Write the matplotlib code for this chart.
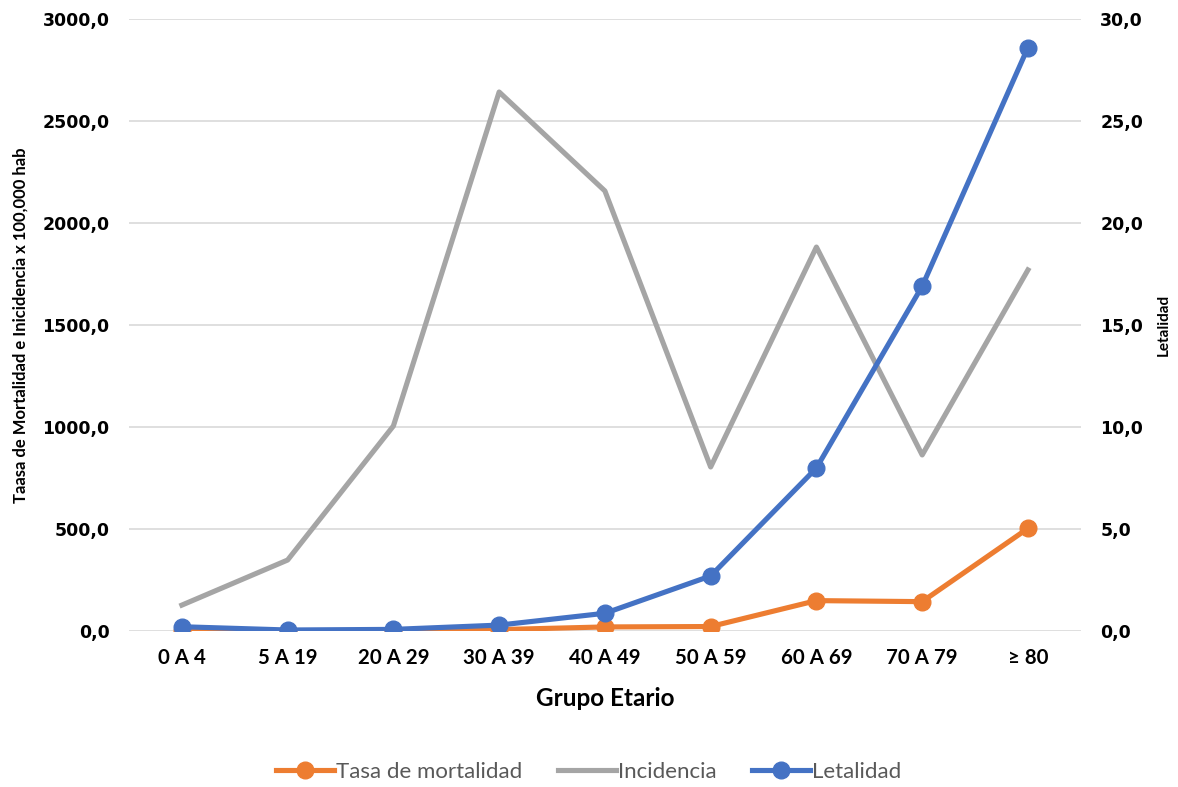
import matplotlib.pyplot as plt
from matplotlib.ticker import FuncFormatter, MultipleLocator

grupos = ['0 A 4', '5 A 19', '20 A 29', '30 A 39', '40 A 49', '50 A 59', '60 A 69', '70 A 79', '≥ 80']
tasa_mortalidad = [2, 1, 2, 7, 20, 22, 149, 144, 503]
incidencia = [127, 348, 1005, 2642, 2157, 804, 1882, 863, 1770]
letalidad = [0.21, 0.05, 0.08, 0.29, 0.87, 2.70, 7.99, 16.9, 28.6]

naranja = '#ED7D31'
gris = '#A5A5A5'
azul = '#4472C4'

fig = plt.figure(figsize=(11.78, 7.87), dpi=100)
ax = fig.add_axes([0.1095, 0.1982, 0.808, 0.7777])
ax2 = ax.twinx()

x = range(len(grupos))
l1, = ax.plot(x, tasa_mortalidad, color=naranja, lw=3.7, marker='o', ms=12,
              label='Tasa de mortalidad', zorder=3)
l2, = ax.plot(x, incidencia, color=gris, lw=3.7, label='Incidencia', zorder=2)
l3, = ax2.plot(x, letalidad, color=azul, lw=3.7, marker='o', ms=12,
               label='Letalidad', zorder=3)

ax.set_xlim(-0.5, len(grupos) - 0.5)
ax.set_ylim(0, 3000)
ax2.set_ylim(0, 30)
ax.yaxis.set_major_locator(MultipleLocator(500))
ax2.yaxis.set_major_locator(MultipleLocator(5))

fmt = FuncFormatter(lambda v, p: f'{v:.1f}'.replace('.', ','))
ax.yaxis.set_major_formatter(fmt)
ax2.yaxis.set_major_formatter(fmt)

ax.grid(axis='y', color='#D9D9D9', lw=1.2)
ax.set_axisbelow(True)
for a in (ax, ax2):
    for s in a.spines.values():
        s.set_visible(False)
    a.tick_params(length=0)

ax.set_xticks(list(x))
ax.set_xticklabels(grupos, fontfamily='Lato', fontweight='bold', fontsize=14.7)
ax.tick_params(axis='x', pad=12)
for lab in ax.get_yticklabels() + ax2.get_yticklabels():
    lab.set_fontweight('bold')
    lab.set_fontsize(12.5)
ax.tick_params(axis='y', pad=14)
ax2.tick_params(axis='y', pad=14)

ax.set_xlabel('Grupo Etario', fontfamily='Lato', fontweight='bold', fontsize=17.5, labelpad=14)
ax.set_ylabel('Taasa de Mortalidad e Inicidencia x 100,000 hab', fontfamily='Lato',
              fontweight='bold', fontsize=12, labelpad=10)
ax2.set_ylabel('Letalidad', fontfamily='Lato', fontweight='bold', fontsize=11, labelpad=10)

leg = fig.legend(handles=[l1, l2, l3], loc='center', bbox_to_anchor=(0.5, 0.019),
                 ncol=3, frameon=False, handlelength=2.6, columnspacing=1.6,
                 handletextpad=0.1, prop={'family': 'Lato', 'size': 16})
for t in leg.get_texts():
    t.set_color('#595959')

fig.savefig('out.png', dpi=100)
